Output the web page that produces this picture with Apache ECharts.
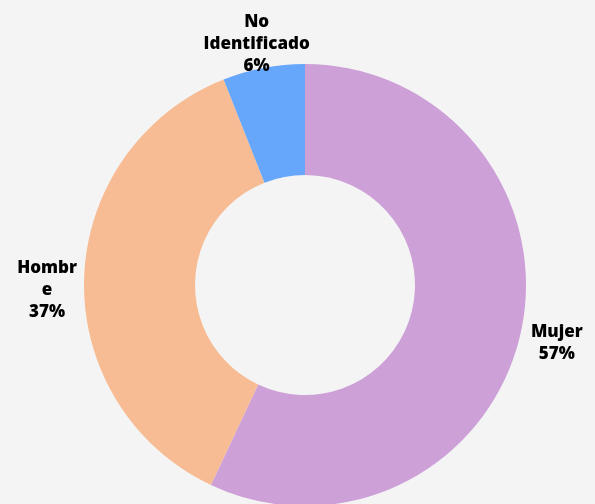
<!DOCTYPE html>
<html>
<head>
<meta charset="utf-8">
<script src="https://cdn.jsdelivr.net/npm/echarts@6/dist/echarts.min.js"></script>
<style>
  html, body { margin: 0; padding: 0; background: #f4f4f4; }
  #chart { width: 595px; height: 504px; }
</style>
</head>
<body>
<div id="chart"></div>
<script>
const categories = ['Mujer', 'Hombre', 'No Identificado']
const values = [57, 37, 6]
// texto de etiqueta tal como aparece (con cortes de línea)
const labelTexts = ['Mujer', 'Hombr\ne', 'No\nIdentificado']
const colors = ['#cda0d8', '#f7bc93', '#66a6fb']

const cx = 305
const cy = 285
const labelRadius = 258

const total = values.reduce((a, b) => a + b, 0)
// ángulo medio de cada sector, desde arriba en sentido horario
const midAngles = []
let acc = 0
values.forEach(v => {
  midAngles.push((acc + v / 2) / total * Math.PI * 2)
  acc += v
})

const chart = echarts.init(document.getElementById('chart'))
const option = {
  backgroundColor: '#f4f4f4',
  color: colors,
  series: [
    {
      type: 'pie',
      center: [cx, cy],
      radius: [110, 221],
      startAngle: 90,
      clockwise: true,
      avoidLabelOverlap: false,
      itemStyle: { borderWidth: 0 },
      label: {
        show: true,
        position: 'outside',
        color: '#000',
        fontFamily: 'Open Sans',
        fontWeight: 800,
        fontSize: 17,
        lineHeight: 22,
        align: 'center',
        formatter: p => labelTexts[p.dataIndex] + '\n' + Math.round(p.percent) + '%'
      },
      labelLine: { show: false },
      labelLayout: params => {
        const a = midAngles[params.dataIndex]
        return {
          x: cx + Math.sin(a) * labelRadius,
          y: cy - Math.cos(a) * labelRadius - 20,
          align: 'center',
          verticalAlign: 'top'
        }
      },
      emphasis: { disabled: true },
      data: categories.map((name, i) => ({ name: name, value: values[i] }))
    }
  ]
}
chart.setOption(option)
</script>
</body>
</html>
